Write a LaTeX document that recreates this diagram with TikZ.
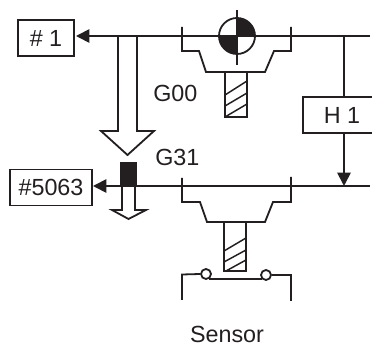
\documentclass[tikz,border=0pt]{standalone}
\usepackage{fontspec}
\setmainfont{Liberation Sans}
\usetikzlibrary{arrows.meta}
\definecolor{inkblack}{HTML}{231F20}
\tikzset{
  wire/.style={line width=1.35pt,draw=inkblack},
  thinwire/.style={line width=1.1pt,draw=inkblack},
  boxlabel/.style={draw=inkblack,text=inkblack,line width=1.35pt,inner sep=0pt,font=\fontsize{17.5pt}{20pt}\selectfont},
  plainlabel/.style={inner sep=0pt,text=inkblack,font=\fontsize{17.5pt}{20pt}\selectfont},
  solidtip/.style={-{Triangle[length=10pt,width=10pt]}}
}

\begin{document}
\begin{tikzpicture}[x=0.75pt,y=-0.75pt]
    \useasboundingbox (0,0) rectangle (372,345);

    % Value boxes
    \node[boxlabel,minimum width=42pt,minimum height=27pt] (macroone) at (46,38) {\# 1};
    \node[boxlabel,minimum width=61pt,minimum height=27pt] (macrofive) at (51,187.5) {\#5063};
    \node[boxlabel,minimum width=58.5pt,minimum height=27pt] (offset) at (342,115) {H 1};

    % Rails
    \coordinate (railtop) at (370,36);
    \coordinate (raillow) at (370,186);
    \coordinate (tiptop) at (76,36);
    \coordinate (tiplow) at (93,186);
    \coordinate (droptop) at (344,36);
    \coordinate (dropend) at (344,186);
    \draw[wire,solidtip] (railtop) -- (tiptop);
    \draw[wire,solidtip] (raillow) -- (tiplow);
    \draw[wire] (droptop) -- (offset.north -| droptop);
    \draw[wire,solidtip] (offset.south -| droptop) -- (dropend);

    % Hollow arrows
    \draw[wire,line join=miter] (118,36) -- (118,131) -- (101,131) -- (127.5,155) -- (154,131) -- (137,131) -- (137,36);
    \fill[inkblack] (120,162) rectangle (136.5,187);
    \draw[wire,line join=miter] (122,187) -- (122,210) -- (112,210) -- (128.5,219) -- (146,210) -- (135,210) -- (135,187);

    % Upper tool holder
    \draw[wire] (182,27) -- (182,51) -- (199,51) -- (206,72) -- (265,72) -- (274,51) -- (291,51) -- (291,27);
    \draw[wire] (225,72) -- (225,117) -- (247,117) -- (247,72);
    \draw[thinwire] (225,95) -- (247,81);
    \draw[thinwire] (225,106) -- (247,93);
    \draw[thinwire] (225,117) -- (247,104);

    % Reference mark
    \fill[white] (237,36) circle (18);
    \fill[inkblack] (237,36) -- (255,36) arc[start angle=0,end angle=-90,radius=18] -- cycle;
    \fill[inkblack] (237,36) -- (219,36) arc[start angle=180,end angle=90,radius=18] -- cycle;
    \draw[wire] (237,36) circle (18);
    \draw[wire] (237,10) -- (237,65);
    \draw[wire] (219,36) -- (255,36);

    % Lower tool holder
    \draw[wire] (182,178) -- (182,202) -- (200,202) -- (207,222) -- (265,222) -- (273,202) -- (291,202) -- (291,177);
    \draw[wire] (224,222) -- (224,271) -- (246,271) -- (246,222);
    \draw[thinwire] (224,251) -- (246,238);
    \draw[thinwire] (224,262) -- (246,250);
    \draw[thinwire] (226,271) -- (246,260);

    % Sensor contacts
    \node[circle,draw=inkblack,line width=1.35pt,inner sep=0pt,minimum size=7.5pt] (contactl) at (206,274) {};
    \node[circle,draw=inkblack,line width=1.35pt,inner sep=0pt,minimum size=7.5pt] (contactr) at (266,275) {};
    \coordinate (legl) at (182,300);
    \coordinate (legr) at (291,301);
    \draw[wire] (legl) -- (182,274.5) -- (contactl.west);
    \draw[wire] (contactr.east) -- (291,275) -- (legr);
    \draw[wire] (209,279) -- (262,279);

    % Labels
    \node[plainlabel,anchor=west] (rapid) at (153,93) {G00};
    \node[plainlabel,anchor=west] (skip) at (155,157) {G31};
    \node[plainlabel] (sensor) at (227,334) {Sensor};
\end{tikzpicture}
\end{document}
